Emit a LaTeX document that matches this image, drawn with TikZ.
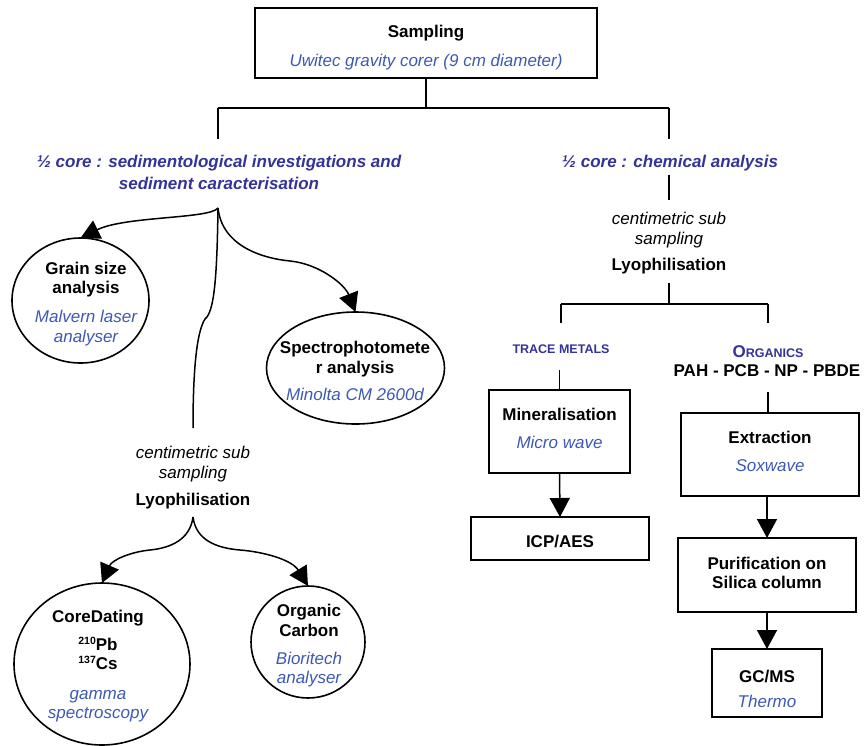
\documentclass[tikz,border=0pt]{standalone}
\usepackage{fontspec}
\setmainfont{Liberation Sans}
\usetikzlibrary{arrows.meta,shapes.geometric}
\definecolor{instr}{RGB}{59,89,181}
\definecolor{ttl}{RGB}{51,51,153}
\newcommand\scfont{\fontsize{12.5}{14}\selectfont}
\newcommand\supnum[1]{\raisebox{6pt}{\fontsize{10.5}{10.5}\selectfont #1}}
\begin{document}
\begin{tikzpicture}[x=1pt,y=-1pt,
  every node/.style={inner sep=0pt, outer sep=0pt, align=center, font=\fontsize{17}{19.5}\selectfont},
  box/.style={draw, line width=1.8pt, rectangle},
  ell/.style={draw, line width=1.6pt, ellipse},
  conn/.style={line width=1.5pt},
  arr/.style={line width=1.5pt, -{Triangle[length=19pt,width=20pt]}},
  ttlf/.style={text=ttl, font=\fontsize{17}{22}\selectfont\bfseries\itshape},
  bld/.style={font=\fontsize{17}{19.5}\selectfont\bfseries},
]
\path[use as bounding box] (0,0) rectangle (866,745);

% ---- top
\node[box, minimum width=342pt, minimum height=70pt] (samp) at (426,43) {};
\node (sampt) at (426,48) {\textbf{Sampling}\\[9.5pt]\textcolor{instr}{\itshape Uwitec gravity corer (9 cm diameter)}};
\coordinate (j0) at (426,108);
\coordinate (jl) at (218,108);
\coordinate (jr) at (669,108);
\coordinate (jle) at (218,139);
\coordinate (jre) at (669,139);
\draw[conn] (samp.south) -- (j0);
\draw[conn] (jl) -- (jr);
\draw[conn] (jl) -- (jle);
\draw[conn] (jr) -- (jre);

% ---- left branch
\node[ttlf] (lt) at (219,172) {½ core : sedimentological investigations and\\sediment caracterisation};
\coordinate (lroot) at (218,208);

\node[ell, minimum width=137pt, minimum height=125pt] (gs) at (80.5,300.5) {};
\node (gst) at (86,304) {\textbf{Grain size}\\\textbf{analysis}\\[9.5pt]\textcolor{instr}{\itshape Malvern laser}\\\textcolor{instr}{\itshape analyser}};

\node[ell, minimum width=178pt, minimum height=112pt] (sp) at (355.5,368) {};
\node (spt) at (355,371) {\textbf{Spectrophotomete}\\\textbf{r analysis}\\[7.5pt]\textcolor{instr}{\itshape Minolta CM 2600d}};

\draw[arr] (lroot) .. controls (210,219) and (125,216) .. (gs.north);
\draw[arr] (lroot) .. controls (222,245) and (260,258) .. (290,261)
                   .. controls (320,264) and (345,285) .. (sp.north);
\coordinate (lmid) at (193,428);
\draw[conn] (lroot) .. controls (217,280) and (214,312) .. (205,319)
                    .. controls (198,330) and (193,360) .. (lmid);

\node[font=\fontsize{17}{19.5}\selectfont\itshape] (lsub) at (193,464) {centimetric sub\\sampling};
\node[bld] (llyo) at (193,501) {Lyophilisation};
\coordinate (lroot2) at (193,517);

\node[ell, minimum width=176pt, minimum height=162pt] (cd) at (102,664) {};
\node (cdt) at (98,666) {\textbf{CoreDating}\\[8.5pt]\textbf{\supnum{210}Pb}\\\textbf{\supnum{137}Cs}\\[10pt]\textcolor{instr}{\itshape gamma}\\\textcolor{instr}{\itshape spectroscopy}};

\node[ell, minimum width=114pt, minimum height=112pt] (oc) at (308,642) {};
\node (oct) at (309,646) {\textbf{Organic}\\\textbf{Carbon}\\[8.5pt]\textcolor{instr}{\itshape Bioritech}\\\textcolor{instr}{\itshape analyser}};

\draw[arr] (lroot2) .. controls (190,540) and (170,548) .. (150,550)
                    .. controls (130,552) and (112,560) .. (cd.north);
\draw[arr] (lroot2) .. controls (196,540) and (216,548) .. (240,550)
                    .. controls (265,552) and (292,560) .. (oc.north);

% ---- right branch
\node[ttlf] (rt) at (670,163) {½ core : chemical analysis};
\coordinate (r1) at (669,175);
\coordinate (r2) at (669,200);
\draw[conn] (r1) -- (r2);
\node[font=\fontsize{17}{19.5}\selectfont\itshape] (rsub) at (669,230) {centimetric sub\\sampling};
\node[bld] (rlyo) at (669,266) {Lyophilisation};
\coordinate (r3) at (669,283);
\coordinate (r4) at (669,304);
\coordinate (rL) at (561,304);
\coordinate (rR) at (768,304);
\coordinate (rLe) at (561,323);
\coordinate (rRe) at (768,323);
\draw[conn] (r3) -- (r4);
\draw[conn] (rL) -- (rR);
\draw[conn] (rL) -- (rLe);
\draw[conn] (rR) -- (rRe);

\node[text=ttl, font=\scfont\bfseries] (tm) at (561,349) {TRACE METALS};
\node[text=ttl, font=\fontsize{17}{19.5}\selectfont\bfseries] (org) at (768,352) {O{\scfont RGANICS}};
\node[bld] (pah) at (767,371) {PAH - PCB - NP - PBDE};

\node[box, minimum width=141pt, minimum height=83pt] (min) at (559.5,431.5) {};
\node (mint) at (559.5,428.5) {\textbf{Mineralisation}\\[8.5pt]\textcolor{instr}{\itshape Micro wave}};
\coordinate (tmb) at (559.5,370);
\draw[conn] (tmb) -- (min.north);
\node[box, minimum width=178pt, minimum height=43pt] (icp) at (560,538.5) {};
\node (icpt) at (560,541.5) {\textbf{ICP/AES}};
\draw[arr] (min.south) -- (icp.north);

\node[box, minimum width=178pt, minimum height=83pt] (ext) at (770,454.5) {};
\node (extt) at (770,451.5) {\textbf{Extraction}\\[8.5pt]\textcolor{instr}{\itshape Soxwave}};
\coordinate (ob) at (768,392);
\draw[conn] (ob) -- (ext.north -| ob);
\node[box, minimum width=178pt, minimum height=74pt] (pur) at (767,575) {};
\node (purt) at (767,573) {\textbf{Purification on}\\\textbf{Silica column}};
\draw[arr] (pur.north |- ext.south) -- (pur.north);
\node[box, minimum width=110pt, minimum height=68pt] (gc) at (767,683) {};
\node (gct) at (767,689) {\textbf{GC/MS}\\[6pt]\textcolor{instr}{\itshape Thermo}};
\draw[arr] (pur.south) -- (gc.north);
\end{tikzpicture}
\end{document}
